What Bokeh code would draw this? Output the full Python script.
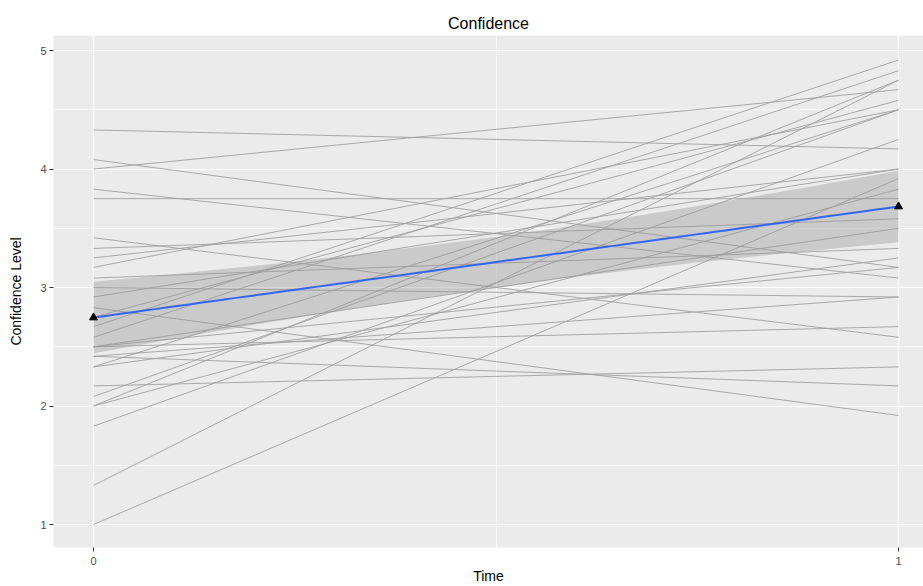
import numpy as np
from bokeh.plotting import figure
from bokeh.models import Range1d, FixedTicker, ColumnDataSource
from bokeh.embed import file_html
from bokeh.resources import INLINE

# ---- data ----
time_points = [0, 1]
conf_time0 = [4.33, 4.08, 4.00, 3.83, 3.75, 3.42, 3.33, 3.25, 3.17, 3.08,
              3.00, 2.92, 2.83, 2.75, 2.67, 2.58, 2.50, 2.50, 2.42, 2.42,
              2.33, 2.33, 2.17, 2.08, 2.00, 2.00, 1.83, 1.33, 1.00, 2.50]
conf_time1 = [4.17, 3.17, 4.67, 3.08, 3.75, 2.58, 3.58, 4.00, 4.50, 3.33,
              2.92, 4.00, 1.92, 4.58, 4.92, 4.83, 2.67, 3.50, 2.92, 2.17,
              4.50, 3.25, 2.33, 4.50, 4.75, 3.83, 4.25, 4.75, 3.92, 3.17]
x_ticks = [0, 1]
x_minor = [0.5]
y_ticks = [1, 2, 3, 4, 5]
y_minor = [1.5, 2.5, 3.5, 4.5]

# ---- linear fit (as geom_smooth(method="lm")) ----
y0 = np.array(conf_time0)
y1 = np.array(conf_time1)
xs_all = np.concatenate([np.full(len(y0), time_points[0]), np.full(len(y1), time_points[1])]).astype(float)
ys_all = np.concatenate([y0, y1])
N = len(xs_all)
xbar = xs_all.mean()
Sxx = ((xs_all - xbar) ** 2).sum()
slope = ((xs_all - xbar) * (ys_all - ys_all.mean())).sum() / Sxx
intercept = ys_all.mean() - slope * xbar
resid = ys_all - (intercept + slope * xs_all)
dfree = N - 2
sigma = np.sqrt((resid ** 2).sum() / dfree)


def t_quantile_975(df):
    z = 1.959963984540054
    g1 = (z ** 3 + z) / 4
    g2 = (5 * z ** 5 + 16 * z ** 3 + 3 * z) / 96
    g3 = (3 * z ** 7 + 19 * z ** 5 + 17 * z ** 3 - 15 * z) / 384
    return z + g1 / df + g2 / df ** 2 + g3 / df ** 3


tq = t_quantile_975(dfree)
grid_x = np.linspace(time_points[0], time_points[1], 80)
fit = intercept + slope * grid_x
se = sigma * np.sqrt(1.0 / N + (grid_x - xbar) ** 2 / Sxx)
lower = fit - tq * se
upper = fit + tq * se

means = [y0.mean(), y1.mean()]

# ---- figure ----
p = figure(width=923, height=586, output_backend="svg", toolbar_location=None,
           x_range=Range1d(-0.0497, 1.031), y_range=Range1d(0.806, 5.127),
           min_border_left=53, min_border_right=0, min_border_top=35, min_border_bottom=39,
           background_fill_color="#EBEBEB", border_fill_color="white",
           outline_line_color=None)

p.title.text = "Confidence"
p.title.align = "center"
p.title.offset = 7
p.title.text_font = "Liberation Sans"
p.title.text_font_size = "16px"
p.title.text_font_style = "normal"
p.title.text_color = "black"
p.title.standoff = 8

p.xaxis.ticker = FixedTicker(ticks=x_ticks, minor_ticks=x_minor)
p.yaxis.ticker = FixedTicker(ticks=y_ticks, minor_ticks=y_minor)

for g in (p.xgrid, p.ygrid):
    g.grid_line_color = "white"
    g.grid_line_width = 1.2
    g.minor_grid_line_color = "white"
    g.minor_grid_line_width = 0.6

for ax in (p.xaxis, p.yaxis):
    ax.axis_line_color = None
    ax.major_tick_line_color = "#333333"
    ax.major_tick_out = 4
    ax.major_tick_in = 0
    ax.minor_tick_out = 0
    ax.minor_tick_in = 0
    ax.major_label_text_font = "Liberation Sans"
    ax.major_label_text_font_size = "11px"
    ax.major_label_text_color = "#4D4D4D"
    ax.axis_label_text_font = "Liberation Sans"
    ax.axis_label_text_font_size = "14px"
    ax.axis_label_text_font_style = "normal"
    ax.axis_label_text_color = "black"

p.xaxis.axis_label = "Time"
p.xaxis.major_label_standoff = 5
p.xaxis.axis_label_standoff = 0
p.yaxis.axis_label = "Confidence Level"
p.yaxis.major_label_standoff = 3
p.yaxis.axis_label_standoff = 13

# individual trajectories
line_src = ColumnDataSource(dict(
    xs=[list(time_points) for _ in conf_time0],
    ys=[[a, b] for a, b in zip(conf_time0, conf_time1)],
))
p.multi_line(xs="xs", ys="ys", source=line_src, line_color="#A0A0A0", line_width=0.9)

# confidence band and fitted line
band_src = ColumnDataSource(dict(x=grid_x, lower=lower, upper=upper, fit=fit))
p.varea(x="x", y1="lower", y2="upper", source=band_src, fill_color="#999999", fill_alpha=0.4)
p.line(x="x", y="fit", source=band_src, line_color="#3366FF", line_width=2)

# mean points
p.scatter(x=time_points, y=means, marker="triangle", size=8,
          fill_color="black", line_color="black")

open("out.html", "w").write(file_html(p, INLINE))
